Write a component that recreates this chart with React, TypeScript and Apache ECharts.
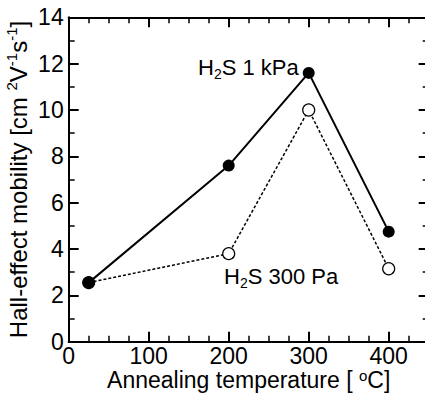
import React, { useEffect, useRef } from "react";
import * as echarts from "echarts";

const temperatures = [25, 200, 300, 400];
const mobility1kPa = [2.55, 7.6, 11.6, 4.75];
const mobility300Pa = [2.55, 3.8, 10.0, 3.15];
const label1kPa = "{n|H}{s|2}{n|S 1 kPa}";
const label300Pa = "{n|H}{s|2}{n|S 300 Pa}";
const xName = "Annealing temperature [ {p|o}C]";
const yName = "Hall-effect mobility [cm {p|2}V{p|-1}s{p|-1}]";

const FONT = "'Liberation Sans', Arial, sans-serif";

export default function App() {
  const ref = useRef<HTMLDivElement>(null);
  useEffect(() => {
    if (!ref.current) return;
    const chart = echarts.init(ref.current, undefined, { renderer: "svg" });
    const grid = { left: 68.7, top: 17.3, width: 360, height: 324.4, containLabel: false, outerBoundsMode: "none" };
    const line = { show: true, onZero: false, lineStyle: { color: "#000", width: 2 } };
    const majorTick = { show: true, inside: true, length: 10, lineStyle: { color: "#000", width: 2 } };
    const minorTickX = { show: true, inside: true, length: 6, lineStyle: { color: "#000", width: 1.5 } };
    const xNameRich = {
      n: { fontSize: 23, fontFamily: FONT, color: "#000", lineHeight: 23, verticalAlign: "middle" },
      p: { fontSize: 15, fontFamily: FONT, color: "#000", lineHeight: 15, verticalAlign: "top" },
    };
    const yNameRich = {
      n: { fontSize: 24, fontFamily: FONT, color: "#000", lineHeight: 29, verticalAlign: "middle" },
      p: { fontSize: 15, fontFamily: FONT, color: "#000", lineHeight: 15, verticalAlign: "top" },
    };
    const labelRich = {
      n: { fontSize: 22, fontFamily: FONT, color: "#000", lineHeight: 27, verticalAlign: "middle" },
      s: { fontSize: 14, fontFamily: FONT, color: "#000", lineHeight: 14, verticalAlign: "bottom" },
    };
    const wrapName = (s: string) =>
      s.replace(/(^|\})([^{}]+?)(?=\{|$)/g, (m, a, b) => `${a}{n|${b}}`);
    chart.setOption({
      animation: false,
      grid: [{ ...grid }, { ...grid }],
      xAxis: [
        {
          type: "value", gridIndex: 0, position: "bottom", min: 0, max: 450, interval: 100,
          axisLine: line, axisTick: majorTick, splitLine: { show: false },
          axisLabel: { show: true, margin: 5, fontSize: 23, lineHeight: 19, color: "#000", fontFamily: FONT, showMaxLabel: false },
          name: wrapName(xName), nameLocation: "middle", nameGap: 26.5, nameMoveOverlap: false,
          nameTextStyle: { rich: xNameRich },
        },
        {
          type: "value", gridIndex: 0, position: "top", min: 0, max: 450, interval: 100,
          axisLine: line, axisTick: majorTick, splitLine: { show: false }, axisLabel: { show: false },
        },
        {
          type: "value", gridIndex: 1, position: "bottom", min: 0, max: 450, interval: 25,
          axisLine: { show: false }, axisTick: minorTickX, splitLine: { show: false }, axisLabel: { show: false },
        },
        {
          type: "value", gridIndex: 1, position: "top", min: 0, max: 450, interval: 25,
          axisLine: { show: false }, axisTick: minorTickX, splitLine: { show: false }, axisLabel: { show: false },
        },
      ],
      yAxis: [
        {
          type: "value", gridIndex: 0, position: "left", min: 0, max: 14, interval: 2,
          axisLine: line, axisTick: majorTick, splitLine: { show: false },
          minorTick: { show: true, splitNumber: 2, length: 6, lineStyle: { color: "#000", width: 1.5 } },
          minorSplitLine: { show: false },
          axisLabel: { show: true, margin: 5, fontSize: 23, color: "#000", fontFamily: FONT },
          name: wrapName(yName), nameLocation: "middle", nameGap: 36, nameMoveOverlap: false,
          nameTextStyle: { rich: yNameRich },
        },
        {
          type: "value", gridIndex: 0, position: "right", min: 0, max: 14, interval: 2,
          axisLine: line, axisTick: majorTick, splitLine: { show: false },
          minorTick: { show: true, splitNumber: 2, length: 6, lineStyle: { color: "#000", width: 1.5 } },
          minorSplitLine: { show: false },
          axisLabel: { show: false },
        },
        {
          type: "value", gridIndex: 1, min: 0, max: 14, show: false,
        },
      ],
      series: [
        {
          type: "line", xAxisIndex: 0, yAxisIndex: 0,
          data: temperatures.map((t, i) => [t, mobility300Pa[i]]),
          symbol: "circle", symbolSize: 12,
          itemStyle: { color: "#fff", borderColor: "#000", borderWidth: 1.2 },
          lineStyle: { color: "#000", width: 1.5, type: [3, 2] },
          z: 2,
        },
        {
          type: "line", xAxisIndex: 0, yAxisIndex: 0,
          data: temperatures.map((t, i) => [t, mobility1kPa[i]]),
          symbol: "circle", symbolSize: 12,
          itemStyle: { color: "#000", borderColor: "#000", borderWidth: 0 },
          lineStyle: { color: "#000", width: 2 },
          z: 3,
        },
      ],
      graphic: [
        {
          type: "text", x: 198, y: 67.5,
          style: { text: label1kPa, rich: labelRich, verticalAlign: "middle", align: "left" },
        },
        {
          type: "text", x: 224, y: 276,
          style: { text: label300Pa, rich: labelRich, verticalAlign: "middle", align: "left" },
        },
      ],
    });
    return () => chart.dispose();
  }, []);
  return (
    <div
      ref={ref}
      style={{ position: "fixed", left: 0, top: 0, width: 425, height: 397, background: "#fff" }}
    />
  );
}
